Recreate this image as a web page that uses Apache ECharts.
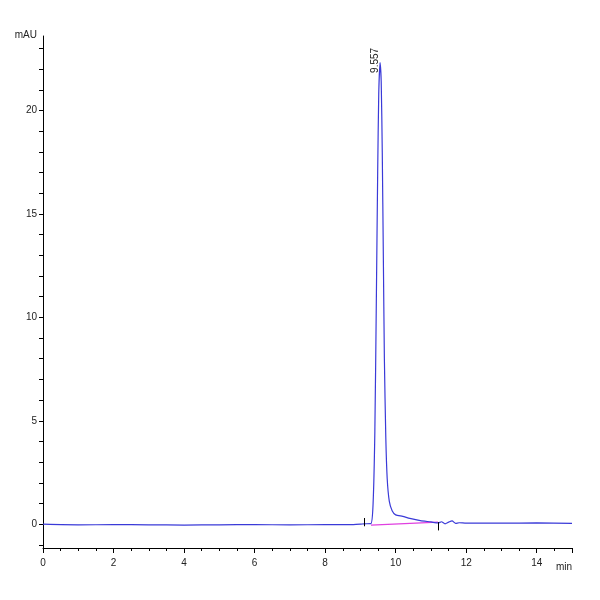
<!DOCTYPE html>
<html>
<head>
<meta charset="utf-8">
<script src="https://cdn.jsdelivr.net/npm/echarts@6/dist/echarts.min.js"></script>
<style>html,body{margin:0;background:#fff}#main{width:600px;height:600px}</style>
</head>
<body>
<div id="main"></div>
<script>
var chartDom = document.getElementById('main');
var myChart = echarts.init(chartDom);

const signalTime = [0, 1, 2, 3, 4, 5, 6, 7, 8, 8.8, 9.0, 9.1, 9.3, 9.36, 9.41, 9.45, 9.49, 9.52, 9.557, 9.59, 9.62, 9.65, 9.68, 9.72, 9.76, 9.82, 9.9, 10.0, 10.2, 10.4, 10.7, 11.0, 11.2, 11.3, 11.4, 11.5, 11.6, 11.7, 11.8, 12, 13, 14, 15];
const signalValue = [0, -0.03, -0.02, -0.03, -0.04, -0.03, -0.02, -0.03, -0.02, -0.02, 0.0, 0.02, 0.03, 1.0, 4.5, 10.5, 17.0, 20.8, 22.3, 21.4, 18.0, 13.0, 8.0, 4.2, 2.2, 1.1, 0.65, 0.45, 0.38, 0.28, 0.17, 0.11, 0.06, 0.12, 0.02, 0.1, 0.16, 0.04, 0.07, 0.05, 0.05, 0.06, 0.04];
const baselineTime = [9.3, 11.2];
const baselineValue = [-0.04, 0.1];
const peakLabel = '9.557';
const font = 'Liberation Sans';

var yTicks = [];
for (let v = -1; v <= 23; v++) yTicks.push(v);

var option = {
  animation: false,
  grid: { left: 43, right: 28, top: 36, bottom: 52 },
  xAxis: {
    type: 'value', min: 0, max: 15, interval: 2,
    name: 'min', nameLocation: 'end', nameGap: 0,
    nameTextStyle: { fontFamily: font, fontSize: 10, color: '#222', align: 'right', verticalAlign: 'top', padding: [14, 0, 0, 0] },
    axisLine: { onZero: false, lineStyle: { color: '#000' } },
    axisTick: { length: 5, lineStyle: { color: '#000' } },
    minorTick: { show: true, splitNumber: 4, length: 3, lineStyle: { color: '#000' } },
    axisLabel: { fontFamily: font, fontSize: 10, color: '#222', margin: 10,
      formatter: v => v === 15 ? '' : v },
    splitLine: { show: false }
  },
  yAxis: {
    type: 'value', min: -1.15, max: 23.6,
    name: 'mAU', nameLocation: 'end', nameGap: -4,
    nameTextStyle: { fontFamily: font, fontSize: 10, color: '#222', align: 'right', padding: [0, 6, 0, 0] },
    axisLine: { lineStyle: { color: '#000' } },
    axisTick: { length: 4, customValues: yTicks, lineStyle: { color: '#000' } },
    minorTick: { show: false },
    axisLabel: { customValues: [0, 5, 10, 15, 20], fontFamily: font, fontSize: 10, color: '#222', margin: 6 },
    splitLine: { show: false }
  },
  series: [
    {
      type: 'line', showSymbol: false, smooth: 0.2,
      data: signalTime.map((t, i) => [t, signalValue[i]]),
      lineStyle: { color: '#3a3ad8', width: 1.2 },
      markPoint: {
        symbol: 'circle', symbolSize: 1,
        data: [{ coord: [9.557, 22.3] }],
        label: { show: true, formatter: peakLabel, rotate: 90, position: 'top', distance: 2,
          fontFamily: font, fontSize: 10, color: '#222' }
      },
      markLine: {
        symbol: 'none', silent: true, label: { show: false },
        lineStyle: { color: '#000', type: 'solid', width: 1 },
        data: [
          [{ coord: [9.1, -0.1] }, { coord: [9.1, 0.3] }],
          [{ coord: [11.2, -0.3] }, { coord: [11.2, 0.1] }]
        ]
      },
      z: 3
    },
    {
      type: 'line', showSymbol: false,
      data: baselineTime.map((t, i) => [t, baselineValue[i]]),
      lineStyle: { color: '#e040e0', width: 1.2 },
      z: 2
    }
  ]
};

option && myChart.setOption(option);
</script>
</body>
</html>
